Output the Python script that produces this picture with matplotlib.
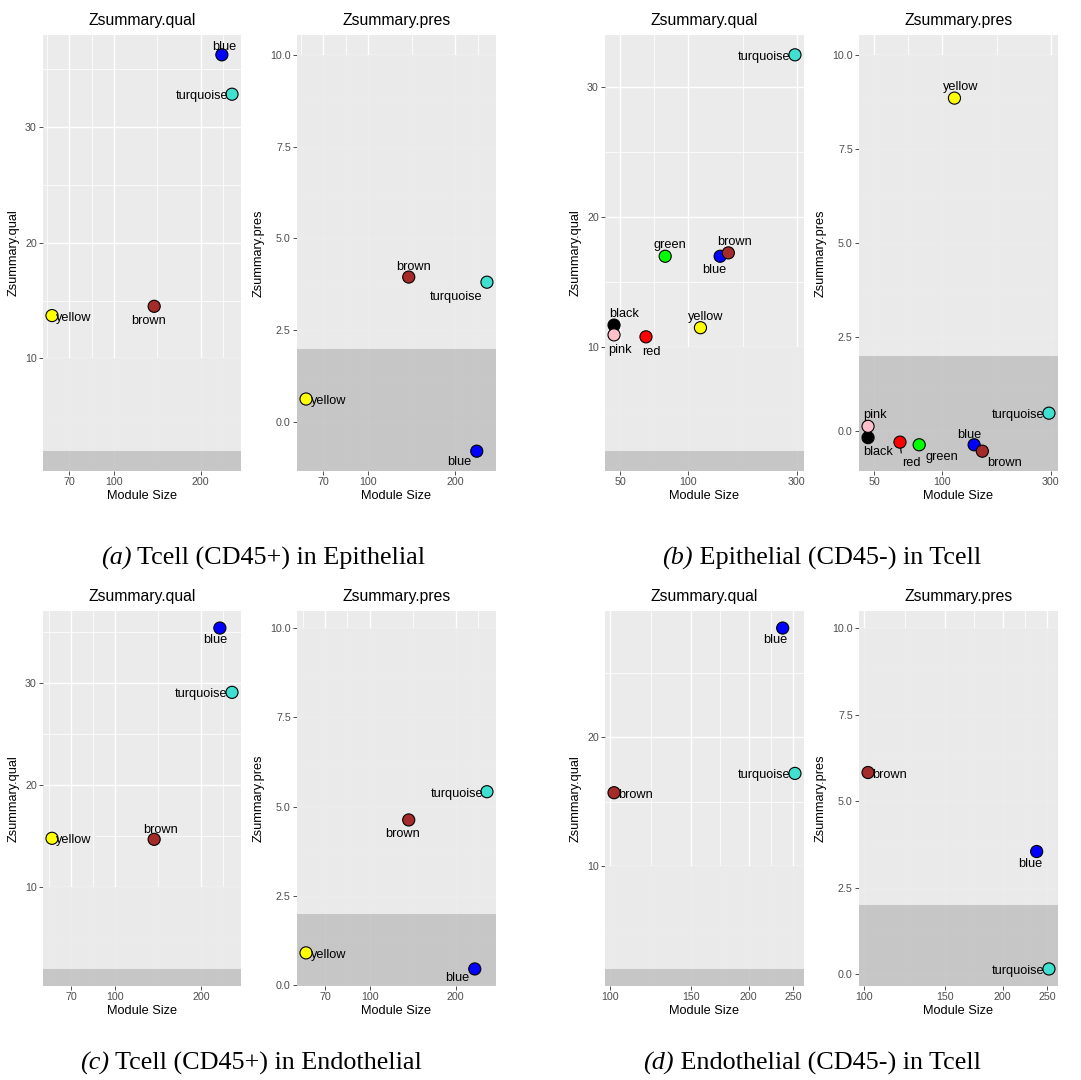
import matplotlib.pyplot as plt
import numpy as np

plt.rcParams["font.family"] = ["Liberation Sans", "DejaVu Sans"]

# (a) Tcell (CD45+) in Epithelial
a_modules = ["yellow", "brown", "blue", "turquoise"]
a_size = [61, 138, 237, 257]
a_qual = [13.7, 14.5, 36.2, 32.8]
a_pres = [0.63, 3.95, -0.79, 3.81]

# (b) Epithelial (CD45-) in Tcell
b_modules = ["black", "pink", "red", "green", "yellow", "blue", "brown", "turquoise"]
b_size = [47, 47, 65, 79, 113, 138, 150, 295]
b_qual = [11.7, 10.95, 10.8, 17.0, 11.5, 17.0, 17.26, 32.5]
b_pres = [-0.17, 0.13, -0.29, -0.36, 8.85, -0.36, -0.53, 0.48]

# (c) Tcell (CD45+) in Endothelial
c_modules = ["yellow", "brown", "blue", "turquoise"]
c_size = [60, 137, 233, 257]
c_qual = [14.8, 14.7, 35.4, 29.1]
c_pres = [0.91, 4.63, 0.46, 5.42]

# (d) Endothelial (CD45-) in Tcell
d_modules = ["brown", "blue", "turquoise"]
d_size = [102, 237, 252]
d_qual = [15.7, 28.5, 17.2]
d_pres = [5.83, 3.55, 0.16]

cap_tags = ["(a)", "(b)", "(c)", "(d)"]
cap_texts = [" Tcell (CD45+) in Epithelial", " Epithelial (CD45-) in Tcell",
             " Tcell (CD45+) in Endothelial", " Endothelial (CD45-) in Tcell"]

x_breaks = {"a": [50, 70, 100, 200, 300], "b": [50, 100, 300],
            "c": [50, 70, 100, 200, 300], "d": [100, 150, 200, 250]}
qual_breaks = [0, 10, 20, 30, 40]
pres_breaks = [0, 2.5, 5, 7.5, 10]

# R colour names -> hex
fills = {"yellow": "#FFFF00", "brown": "#A52A2A", "blue": "#0000FF",
         "turquoise": "#40E0D0", "black": "#000000", "pink": "#FFC0CB",
         "red": "#FF0000", "green": "#00FF00"}

# label offsets in pixels (dx right, dy down) and alignment, like ggrepel placed them
labels = {
    ("a", "qual"): {"yellow": (4, 2, "left"), "brown": (-6, 15, "center"),
                    "blue": (2, -8, "center"), "turquoise": (-4, 2, "right")},
    ("a", "pres"): {"yellow": (5, 2, "left"), "brown": (5, -10, "center"),
                    "blue": (-17, 11, "center"), "turquoise": (-31, 15, "center")},
    ("b", "qual"): {"black": (10, -11, "center"), "pink": (6, 15, "center"),
                    "red": (5, 15, "center"), "green": (5, -11, "center"),
                    "yellow": (5, -11, "center"), "blue": (-6, 14, "center"),
                    "brown": (6, -11, "center"), "turquoise": (-5, 2, "right")},
    ("b", "pres"): {"black": (10, 14, "center"), "pink": (7, -11, "center"),
                    "red": (11, 21, "center"), "green": (23, 12, "center"),
                    "yellow": (6, -11, "center"), "blue": (-5, -10, "center"),
                    "brown": (22, 12, "center"), "turquoise": (-5, 2, "right")},
    ("c", "qual"): {"yellow": (4, 2, "left"), "brown": (6, -9, "center"),
                    "blue": (-5, 12, "center"), "turquoise": (-5, 2, "right")},
    ("c", "pres"): {"yellow": (5, 2, "left"), "brown": (-6, 14, "center"),
                    "blue": (-17, 9, "center"), "turquoise": (-4, 2, "right")},
    ("d", "qual"): {"brown": (4, 2, "left"), "blue": (-7, 12, "center"),
                    "turquoise": (-5, 2, "right")},
    ("d", "pres"): {"brown": (4, 2, "left"), "blue": (-6, 12, "center"),
                    "turquoise": (-5, 2, "right")},
}

W, H = 1081, 1080
PX = 72 / 100  # points per pixel


def expand(lo, hi):
    pad = 0.05 * (hi - lo)
    return lo - pad, hi + pad


def minor_between(majors):
    # ggplot style: halfway between majors, extended one step on both sides
    if len(majors) < 2:
        return []
    bd = majors[1] - majors[0]
    ext = [majors[0] - bd] + list(majors) + [majors[-1] + bd]
    return [(p + q) / 2 for p, q in zip(ext[:-1], ext[1:])]


def draw(ax, key, metric, modules, size, vals):
    lx = np.log10(size)
    x0, x1 = expand(lx.min(), lx.max())
    y0, y1 = expand(min(min(vals), 2, 10), max(max(vals), 2, 10))
    ybr = qual_breaks if metric == "qual" else pres_breaks

    ax.set_xscale("log")
    ax.set_xlim(10 ** x0, 10 ** x1)
    ax.set_ylim(y0, y1)
    ax.set_facecolor("#EBEBEB")
    for s in ax.spines.values():
        s.set_visible(False)

    xm = [b for b in x_breaks[key] if x0 <= np.log10(b) <= x1]
    ym = [b for b in ybr if y0 <= b <= y1]
    ax.set_xticks(xm)
    ax.set_xticklabels([str(b) for b in xm])
    xmin_t = [10 ** v for v in minor_between(list(np.log10(xm)))]
    ax.set_xticks([v for v in xmin_t if 10 ** x0 < v < 10 ** x1], minor=True)
    ax.set_yticks(ym)
    if metric == "qual":
        ax.set_yticklabels([f"{b:g}" for b in ym])
    else:
        ax.set_yticklabels([f"{b:.1f}" for b in ym])
    ax.set_yticks([v for v in minor_between(ym) if y0 < v < y1], minor=True)
    ax.xaxis.set_minor_formatter(plt.NullFormatter())
    ax.yaxis.set_minor_formatter(plt.NullFormatter())

    ax.set_axisbelow(True)
    ax.grid(which="major", color="white", lw=1.0)
    ax.grid(which="minor", color="white", lw=0.55)
    ax.tick_params(which="major", length=2.7, width=0.6, color="#333333",
                   labelcolor="#4D4D4D", labelsize=7.7, pad=1.8)
    ax.tick_params(which="minor", length=0)

    ax.axhspan(2, 10, color="#EAEAEA", alpha=0.9, lw=0, zorder=1)
    ax.axhspan(y0 - 50, 2, color="#C4C4C4", alpha=0.93, lw=0, zorder=1)

    ax.scatter(size, vals, s=76, c=[fills[m] for m in modules],
               edgecolors="black", linewidths=0.8, zorder=3)
    place = labels[(key, metric)]
    for m, x, y in zip(modules, size, vals):
        dx, dy, ha = place[m]
        arrow = None
        if key == "b" and metric == "pres" and m == "red":
            arrow = dict(arrowstyle="-", color="black", lw=0.8,
                         shrinkA=1, shrinkB=4.5, relpos=(0.0, 1.0))
        ax.annotate(m, (x, y), xytext=(dx * PX, -dy * PX),
                    textcoords="offset points", ha=ha, va="center",
                    fontsize=9.2, color="black", zorder=4, arrowprops=arrow)

    ax.set_title("Zsummary." + metric, fontsize=11.3, pad=7)
    ax.set_xlabel("Module Size", fontsize=9.2, labelpad=2)
    ax.set_ylabel("Zsummary." + metric, fontsize=9.2, labelpad=4)


fig = plt.figure(figsize=(W / 100, H / 100), dpi=100)
fig.patch.set_facecolor("white")

rows = {"top": (35, 471), "bottom": (611, 986)}
cols = {"left": [(43, 241), (297, 496)], "right": [(605, 804), (859, 1058)]}
panels = [
    ("a", "top", "left", a_modules, a_size, a_qual, a_pres),
    ("b", "top", "right", b_modules, b_size, b_qual, b_pres),
    ("c", "bottom", "left", c_modules, c_size, c_qual, c_pres),
    ("d", "bottom", "right", d_modules, d_size, d_qual, d_pres),
]
cap_pos = [(263, 558), (822, 558), (251, 1063), (812, 1063)]

for key, r, c, mods, size, qual, pres in panels:
    top, bot = rows[r]
    for (left, right), metric, vals in zip(cols[c], ["qual", "pres"], [qual, pres]):
        ax = fig.add_axes([left / W, 1 - bot / H, (right - left) / W, (bot - top) / H])
        draw(ax, key, metric, mods, size, vals)

# captions: italic tag followed by upright text, centred as one line
renderer = fig.canvas.get_renderer()
for tag, body, (cx, cy) in zip(cap_tags, cap_texts, cap_pos):
    t1 = fig.text(0, 1 - cy / H, tag, ha="left", va="center", fontsize=18.8,
                  family="Liberation Serif", style="italic")
    t2 = fig.text(0, 1 - cy / H, body, ha="left", va="center", fontsize=18.8,
                  family="Liberation Serif")
    w1 = t1.get_window_extent(renderer).width
    w2 = t2.get_window_extent(renderer).width
    start = cx - (w1 + w2) / 2
    t1.set_x(start / W)
    t2.set_x((start + w1) / W)

fig.savefig("out.png", dpi=100)
